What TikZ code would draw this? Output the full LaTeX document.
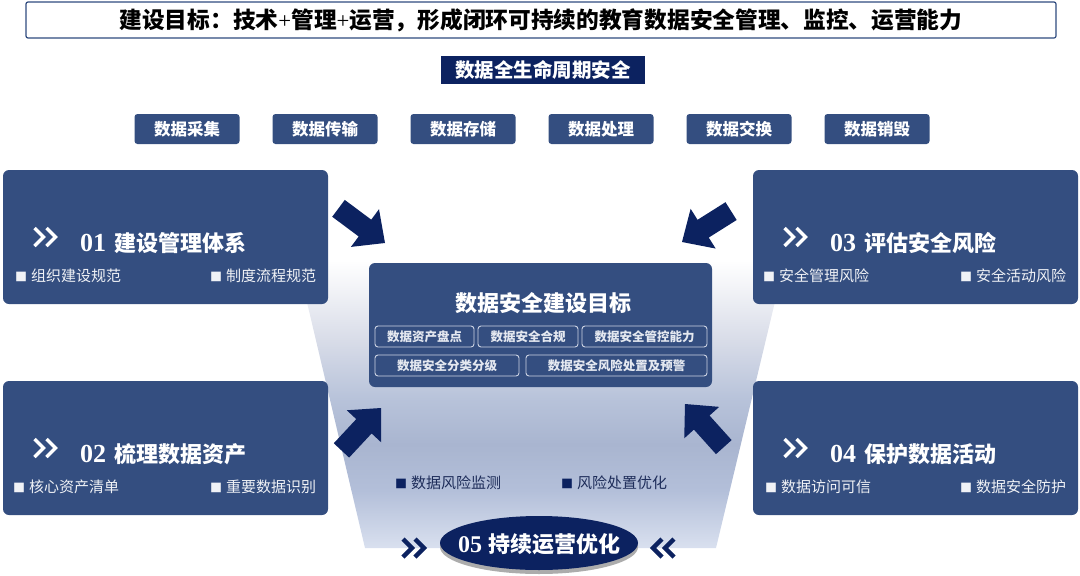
\documentclass[tikz,border=0pt]{standalone}
\usepackage{fontspec}
\setmainfont{Liberation Serif}
\newfontfamily\cjk{Noto Sans CJK SC}
\newfontfamily\numf{Liberation Serif}
\usetikzlibrary{shapes.geometric,shadows}
\definecolor{boxblue}{RGB}{52,78,128}
\definecolor{navy}{RGB}{12,34,96}
\definecolor{bordblue}{RGB}{47,75,127}
\definecolor{subline}{RGB}{205,212,228}
\definecolor{subtext}{RGB}{228,232,240}
\definecolor{bultext}{RGB}{30,45,90}
\definecolor{lighttext}{RGB}{240,242,246}
\definecolor{tA}{HTML}{D9E0EF}
\definecolor{tB}{HTML}{B3BFD9}
\definecolor{tC}{HTML}{A9B5D0}
\definecolor{tD}{HTML}{B8C3DA}
\definecolor{tE}{HTML}{D8DCE8}
\definecolor{tF}{HTML}{F2F3F7}
\pgfdeclareverticalshading{trapsh}{100bp}{color(0bp)=(tA); color(25bp)=(tA); color(35bp)=(tB); color(43bp)=(tC); color(51bp)=(tD); color(61bp)=(tE); color(70bp)=(tF); color(75bp)=(white); color(100bp)=(white)}
\newcommand\bulsq{{\fontsize{12}{12}\selectfont ■}\hspace{4pt}}
\tikzset{
  titlebox/.style={draw=bordblue, line width=1.2pt, fill=white, rounded corners=2pt, minimum width=1030pt, minimum height=36pt, inner sep=0pt},
  tagbox/.style={fill=navy, text=white, minimum width=204pt, minimum height=28pt, inner sep=0pt, font=\cjk\bfseries\fontsize{19.5}{19.5}\selectfont},
  phasebox/.style={fill=boxblue, rounded corners=3pt, text=white, minimum width=105pt, minimum height=30pt, inner sep=0pt, font=\cjk\bfseries\fontsize{16.5}{16.5}\selectfont},
  bigbox/.style={fill=boxblue, rounded corners=6pt, minimum width=325pt, minimum height=134pt, inner sep=0pt},
  centerbox/.style={fill=boxblue, rounded corners=6pt, minimum width=343pt, minimum height=124pt, inner sep=0pt},
  subbox/.style={draw=subline, line width=0.9pt, rounded corners=3pt, text=subtext, minimum height=21pt, inner sep=0pt, font=\cjk\bfseries\fontsize{12.5}{12.5}\selectfont},
  itemtext/.style={anchor=west, inner sep=0pt, text=lighttext, font=\cjk\fontsize{15}{15}\selectfont},
  lowtext/.style={anchor=west, inner sep=0pt, text=bultext, font=\cjk\fontsize{15}{15}\selectfont},
  headtext/.style={anchor=base west, inner sep=0pt, text=white},
  bigarrow/.style={fill=navy},
  dchev/.pic={\draw[pic actions] (-12,-9) -- (-3,0) -- (-12,9); \draw[pic actions] (0,-9) -- (9,0) -- (0,9);},
}
\begin{document}
\begin{tikzpicture}[x=1pt,y=-1pt]
\useasboundingbox (0,0) rectangle (1080,576);
% title
\node[titlebox] (title) at (541,20) {\cjk\bfseries\fontsize{22.7}{22.7}\selectfont 建设目标：技术{\numf\mdseries +}管理{\numf\mdseries +}运营，形成闭环可持续的教育数据安全管理、监控、运营能力};
\node[tagbox] (tag) at (543,70) {数据全生命周期安全};
% phases
\node[phasebox] (p1) at (187,129) {数据采集};
\node[phasebox] (p2) at (325,129) {数据传输};
\node[phasebox] (p3) at (463,129) {数据存储};
\node[phasebox] (p4) at (601,129) {数据处理};
\node[phasebox] (p5) at (739,129) {数据交换};
\node[phasebox] (p6) at (877,129) {数据销毁};
% trapezoid background
\shade[shading=trapsh] (297,260) -- (785,260) -- (716,548) -- (365,548) -- cycle;
% big boxes
\node[bigbox] (b1) at (165.5,237) {};
\node[bigbox] (b2) at (165.5,448) {};
\node[bigbox] (b3) at (915.5,237) {};
\node[bigbox] (b4) at (915.5,448) {};
% box 01
\pic[draw=white, line width=3.5pt] at (46.5,237) {dchev};
\node[headtext] (h1) at (80,251) {{\numf\bfseries\fontsize{26}{26}\selectfont 01}\hspace{8pt}{\cjk\bfseries\fontsize{22}{22}\selectfont 建设管理体系}};
\node[itemtext] (i11) at (15,276) {\bulsq 组织建设规范};
\node[itemtext] (i12) at (210,276) {\bulsq 制度流程规范};
% box 02
\pic[draw=white, line width=3.5pt] at (46.5,448) {dchev};
\node[headtext] (h2) at (80,462) {{\numf\bfseries\fontsize{26}{26}\selectfont 02}\hspace{8pt}{\cjk\bfseries\fontsize{22}{22}\selectfont 梳理数据资产}};
\node[itemtext] (i21) at (13,487) {\bulsq 核心资产清单};
\node[itemtext] (i22) at (210,487) {\bulsq 重要数据识别};
% box 03
\pic[draw=white, line width=3.5pt] at (796.5,237) {dchev};
\node[headtext] (h3) at (830,251) {{\numf\bfseries\fontsize{26}{26}\selectfont 03}\hspace{8pt}{\cjk\bfseries\fontsize{22}{22}\selectfont 评估安全风险}};
\node[itemtext] (i31) at (763,276) {\bulsq 安全管理风险};
\node[itemtext] (i32) at (960,276) {\bulsq 安全活动风险};
% box 04
\pic[draw=white, line width=3.5pt] at (796.5,448) {dchev};
\node[headtext] (h4) at (830,462) {{\numf\bfseries\fontsize{26}{26}\selectfont 04}\hspace{8pt}{\cjk\bfseries\fontsize{22}{22}\selectfont 保护数据活动}};
\node[itemtext] (i41) at (765,487) {\bulsq 数据访问可信};
\node[itemtext] (i42) at (960,487) {\bulsq 数据安全防护};
% center box
\node[centerbox] (cb) at (540.5,325) {};
\node[inner sep=0pt, text=white, font=\cjk\bfseries\fontsize{22}{22}\selectfont] (ct) at (543,303) {数据安全建设目标};
\node[subbox, minimum width=99pt] (s1) at (424.5,336.5) {数据资产盘点};
\node[subbox, minimum width=100pt] (s2) at (528,336.5) {数据安全合规};
\node[subbox, minimum width=125pt] (s3) at (644.5,336.5) {数据安全管控能力};
\node[subbox, minimum width=144pt] (s4) at (447,365.5) {数据安全分类分级};
\node[subbox, minimum width=181pt] (s5) at (616.5,365.5) {数据安全风险处置及预警};
% arrows
\coordinate (a1) at (385,243);
\coordinate (a2) at (682,242);
\coordinate (a3) at (381,408);
\coordinate (a4) at (685,404);
\fill[bigarrow, shift={(a1)}, rotate=-36.7] (-58,-10.5) -- (-25,-10.5) -- (-25,-23.5) -- (0,0) -- (-25,23.5) -- (-25,10.5) -- (-58,10.5) -- cycle;
\fill[bigarrow, shift={(a2)}, rotate=-147.8] (-58,-10.5) -- (-25,-10.5) -- (-25,-23.5) -- (0,0) -- (-25,23.5) -- (-25,10.5) -- (-58,10.5) -- cycle;
\fill[bigarrow, shift={(a3)}, rotate=47] (-58,-10.5) -- (-25,-10.5) -- (-25,-23.5) -- (0,0) -- (-25,23.5) -- (-25,10.5) -- (-58,10.5) -- cycle;
\fill[bigarrow, shift={(a4)}, rotate=132] (-58,-10.5) -- (-25,-10.5) -- (-25,-23.5) -- (0,0) -- (-25,23.5) -- (-25,10.5) -- (-58,10.5) -- cycle;
% lower bullets
\node[lowtext] (l1) at (395,483) {{\color{navy}\bulsq}数据风险监测};
\node[lowtext] (l2) at (561,483) {{\color{navy}\bulsq}风险处置优化};
% ellipse 05
\node[ellipse, fill=navy, minimum width=198pt, minimum height=54pt, drop shadow={shadow xshift=0pt, shadow yshift=-4pt, fill=gray!65, opacity=1}] (e5) at (539,543) {};
\node[inner sep=0pt, text=white] (e5t) at (539,544) {{\numf\bfseries\fontsize{24}{24}\selectfont 05}\hspace{6pt}{\cjk\bfseries\fontsize{22}{22}\selectfont 持续运营优化}};
\pic[draw=navy, line width=4.5pt] at (415,548) {dchev};
\pic[draw=navy, line width=4.5pt, xscale=-1] at (662,548) {dchev};
\end{tikzpicture}
\end{document}
